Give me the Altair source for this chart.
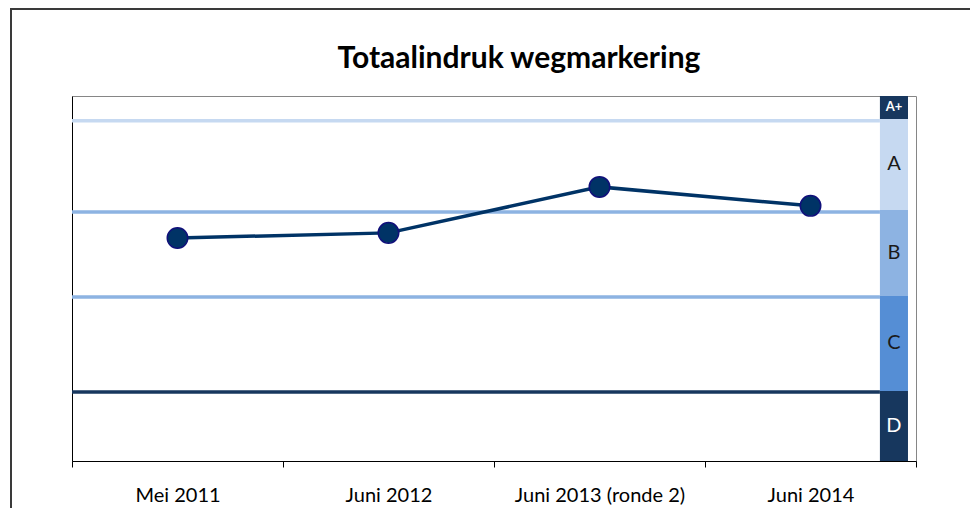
import altair as alt
import pandas as pd

# ---- data ----
periods = ["Mei 2011", "Juni 2012", "Juni 2013 (ronde 2)", "Juni 2014"]
scores = [61.1, 62.5, 75.1, 69.9]

band_names = ["D", "C", "B", "A", "A+"]
band_low = [0.0, 19.2, 45.2, 68.8, 93.7]
band_high = [19.2, 45.2, 68.8, 93.7, 100.0]
band_colors = ["#17375e", "#558ed5", "#8db3e2", "#c6d9f1", "#17375e"]
band_text_colors = ["#ffffff", "#1a1a1a", "#1a1a1a", "#1a1a1a", "#ffffff"]

rule_values = [18.9, 44.9, 68.2, 93.2]
rule_colors = ["#17375e", "#8db3e2", "#8db3e2", "#c6d9f1"]

x_domain = [0, 4]
band_x_start = 3.829
band_x_end = 3.962

pts = pd.DataFrame({"period": periods, "score": scores})
bands = pd.DataFrame({
    "name": band_names, "low": band_low, "high": band_high,
    "color": band_colors, "tcolor": band_text_colors,
    "x1": band_x_start, "x2": band_x_end,
})
bands["mid"] = (bands["low"] + bands["high"]) / 2
bands["xm"] = (bands["x1"] + bands["x2"]) / 2
bands["big"] = bands["name"] != "A+"
rules = pd.DataFrame({"v": rule_values, "color": rule_colors, "x1": 0.0, "x2": band_x_start})

yscale = alt.Scale(domain=[0, 100], nice=False, zero=False)
xq = alt.Scale(domain=x_domain, nice=False, zero=False)

frame = alt.Chart(pd.DataFrame({"a": [0]})).mark_rect(
    fill="transparent", stroke="#3a3a3a", strokeWidth=2
).encode(x=alt.value(-61), y=alt.value(-87), x2=alt.value(1000), y2=alt.value(520))

rule_layer = alt.Chart(rules).mark_rule(strokeWidth=3.5).encode(
    x=alt.X("x1:Q", scale=xq, axis=None),
    x2="x2:Q",
    y=alt.Y("v:Q", scale=yscale,
            axis=alt.Axis(labels=False, ticks=False, grid=False, title=None,
                          domainColor="#000000", domainWidth=1)),
    color=alt.Color("color:N", scale=None),
)

band_layer = alt.Chart(bands).mark_rect().encode(
    x=alt.X("x1:Q", scale=xq, axis=None),
    x2="x2:Q",
    y=alt.Y("low:Q", scale=yscale),
    y2="high:Q",
    color=alt.Color("color:N", scale=None),
)

band_text = alt.Chart(bands[bands["big"]]).mark_text(
    font="Lato", fontSize=20, baseline="middle", align="center"
).encode(
    x=alt.X("xm:Q", scale=xq, axis=None),
    y=alt.Y("mid:Q", scale=yscale),
    text="name:N",
    color=alt.Color("tcolor:N", scale=None),
)

band_text_small = alt.Chart(bands[~bands["big"]]).mark_text(
    font="Lato", fontSize=13, fontWeight="bold", baseline="middle", align="center"
).encode(
    x=alt.X("xm:Q", scale=xq, axis=None),
    y=alt.Y("mid:Q", scale=yscale),
    text="name:N",
    color=alt.Color("tcolor:N", scale=None),
)

xo = alt.X("period:N", sort=periods, bandPosition=0.5,
           scale=alt.Scale(type="band", paddingInner=0, paddingOuter=0),
           axis=alt.Axis(title=None, tickBand="extent", labelAngle=0,
                         labelFont="Lato", labelFontSize=20, labelColor="#000000",
                         labelPadding=18, tickSize=6, tickColor="#000000",
                         domainColor="#000000", grid=False))

line = alt.Chart(pts).mark_line(color="#003366", strokeWidth=3.5).encode(
    x=xo, y=alt.Y("score:Q", scale=yscale)
)
points = alt.Chart(pts).mark_point(
    filled=True, fill="#003366", stroke="#10107a", strokeWidth=1.5, size=420, opacity=1, shape="circle"
).encode(x=xo, y=alt.Y("score:Q", scale=yscale))

series = alt.layer(line, points)

chart = alt.layer(frame, rule_layer, band_layer, band_text, band_text_small, series).resolve_scale(
    x="independent"
).properties(
    width=844, height=365,
    title=alt.TitleParams("Totaalindruk wegmarkering", font="Lato", fontSize=30,
                          fontWeight="bold", color="#000000", anchor="middle",
                          frame="group", dx=25, offset=-66),
    autosize=alt.AutoSizeParams(type="none"),
    padding={"left": 64, "top": 88, "right": 54, "bottom": 47},
).configure_view(stroke="#868686", strokeWidth=1)

chart.save("out.html", embed_options={"renderer": "svg", "actions": False})
